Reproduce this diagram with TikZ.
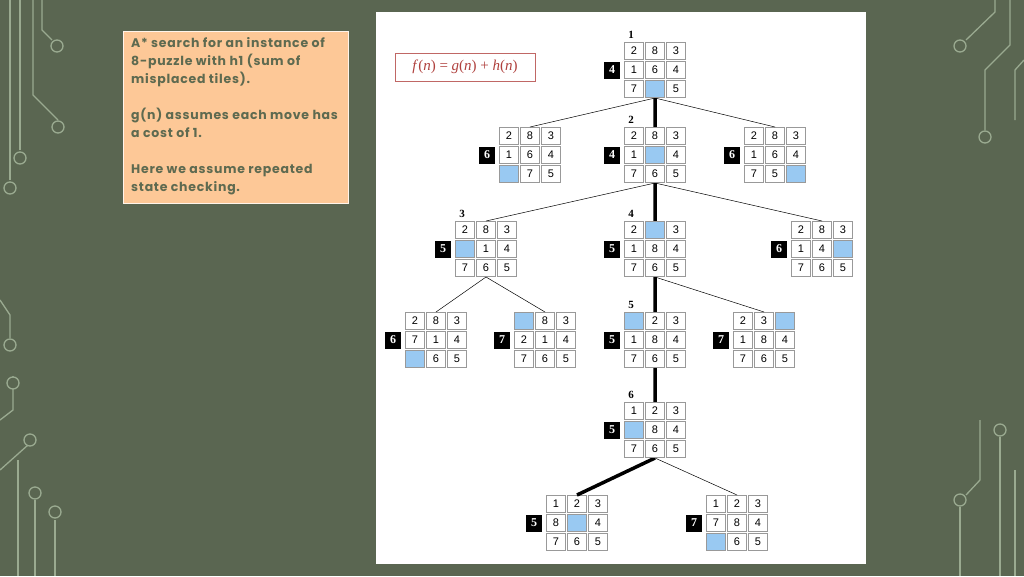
\documentclass[tikz,border=0pt]{standalone}
\usepackage{fontspec}
\setmainfont{Liberation Serif}
\newfontfamily\boxfont[LetterSpace=6]{Poppins}
\newfontfamily\cellfont{Liberation Sans}
\definecolor{bg}{HTML}{5A6651}
\definecolor{deco}{HTML}{9AAA90}
\definecolor{peach}{HTML}{FDC897}
\definecolor{olive}{HTML}{5E6A50}
\definecolor{blank}{HTML}{99C9F2}
\definecolor{formred}{HTML}{B0413E}
\newcommand{\pgrid}[4]{%
  \foreach \v [count=\i from 0] in {#4} {
    \pgfmathtruncatemacro{\cc}{mod(\i,3)-1}
    \pgfmathtruncatemacro{\rr}{int(\i/3)-1}
    \ifnum\v=0
      \node[cell,fill=blank] at ({#2+21*\cc},{#3+19*\rr}) {};
    \else
      \node[cell] at ({#2+21*\cc},{#3+19*\rr}) {\v};
    \fi
  }
  \coordinate (#1-t) at (#2,{#3-28});
  \coordinate (#1-b) at (#2,{#3+28});
}
\newcommand{\fval}[4]{\node[fbox] (#1-f) at ({#2-43},#3) {#4};}
\newcommand{\stepno}[4]{\node[stepn] (#1-s) at ({#2-24},{#3-35}) {#4};}
\begin{document}
\begin{tikzpicture}[x=1pt,y=-1pt,
  cell/.style={draw=gray!80,line width=1.2pt,minimum width=19pt,minimum height=17pt,inner sep=0pt,fill=white,font=\cellfont\fontsize{11}{11}\selectfont},
  fbox/.style={fill=black,text=white,minimum width=16pt,minimum height=17pt,inner sep=0pt,font=\bfseries\fontsize{12}{12}\selectfont},
  stepn/.style={font=\bfseries\fontsize{11}{11}\selectfont,inner sep=0pt},
  thin/.style={draw=black,line width=0.5pt},
  thick/.style={draw=black,line width=3.5pt},
  dl/.style={draw=deco,line width=1.3pt},
  dc/.style={draw=deco,line width=1.3pt,fill=bg}]
\fill[bg] (0,0) rectangle (1024,576);
\useasboundingbox (0,0) rectangle (1024,576);
% decorations left
\draw[dl] (10,0) -- (10,180);
\draw[dl] (20,0) -- (20,150);
\draw[dl] (33,0) -- (33,95) -- (58,120);
\draw[dl] (42,0) -- (42,30) -- (52,40);
\draw[dl] (0,300) -- (10,315) -- (10,338);
\draw[dl] (0,420) -- (13,410) -- (13,376);
\draw[dl] (0,470) -- (28,445);
\draw[dl] (35,500) -- (35,576);
\draw[dl] (18,460) -- (18,576);
\draw[dl] (55,520) -- (55,576);
\foreach \p in {(10,188),(20,158),(58,127),(57,46),(10,345),(13,383),(30,440),(35,493),(55,512)} \draw[dc] \p circle (6);
% decorations right
\draw[dl] (966,40) -- (995,12) -- (995,0);
\draw[dl] (985,130) -- (985,70) -- (1010,45) -- (1010,0);
\draw[dl] (1024,60) -- (1015,70) -- (1015,120);
\draw[dl] (1000,437) -- (1000,576);
\draw[dl] (966,495) -- (980,480) -- (980,420);
\draw[dl] (960,507) -- (960,576);
\draw[dl] (1015,470) -- (1015,576);
\foreach \p in {(960,46),(985,137),(1000,430),(960,500)} \draw[dc] \p circle (6);
% panels
\fill[white] (376,12) rectangle (866,564);
\node[draw=white!80!peach,line width=1pt,fill=peach,minimum width=225pt,minimum height=172pt,anchor=north west,inner sep=0pt] (tbox) at (123,31) {};
\node[anchor=north west,align=left,inner sep=0pt,text=olive,font=\boxfont\bfseries\fontsize{12.5}{18}\selectfont] (ttext) at (131,37)
{A* search for an instance of\\8-puzzle with h1 (sum of\\misplaced tiles).\\[18pt]g(n) assumes each move has\\a cost of 1.\\[18pt]Here we assume repeated\\state checking.};
\node[draw=formred!80,line width=0.8pt,text=formred,minimum width=140pt,minimum height=28pt,font=\fontsize{15}{15}\selectfont] (formula) at (465,67) {\textit{f}(\textit{n}) = \textit{g}(\textit{n}) + \textit{h}(\textit{n})};
\pgrid{r}{655}{70}{2,8,3,1,6,4,7,0,5}
\pgrid{a1}{530}{155}{2,8,3,1,6,4,0,7,5}
\pgrid{a2}{655}{155}{2,8,3,1,0,4,7,6,5}
\pgrid{a3}{775}{155}{2,8,3,1,6,4,7,5,0}
\pgrid{b1}{486}{249}{2,8,3,0,1,4,7,6,5}
\pgrid{b2}{655}{249}{2,0,3,1,8,4,7,6,5}
\pgrid{b3}{822}{249}{2,8,3,1,4,0,7,6,5}
\pgrid{c1}{436}{340}{2,8,3,7,1,4,0,6,5}
\pgrid{c2}{545}{340}{0,8,3,2,1,4,7,6,5}
\pgrid{c3}{655}{340}{0,2,3,1,8,4,7,6,5}
\pgrid{c4}{764}{340}{2,3,0,1,8,4,7,6,5}
\pgrid{d1}{655}{430}{1,2,3,0,8,4,7,6,5}
\pgrid{e1}{577}{523}{1,2,3,8,0,4,7,6,5}
\pgrid{e2}{737}{523}{1,2,3,7,8,4,0,6,5}
\path[thin] (r-b) -- (a1-t) (r-b) -- (a3-t)
  (a2-b) -- (b1-t) (a2-b) -- (b3-t)
  (b1-b) -- (c1-t) (b1-b) -- (c2-t)
  (b2-b) -- (c4-t) (d1-b) -- (e2-t);
\path[thick] (r-b) -- (a2-t) (a2-b) -- (b2-t) (b2-b) -- (c3-t) (c3-b) -- (d1-t) (d1-b) -- (e1-t);
\pgrid{r}{655}{70}{2,8,3,1,6,4,7,0,5}
\pgrid{a2}{655}{155}{2,8,3,1,0,4,7,6,5}
\pgrid{b2}{655}{249}{2,0,3,1,8,4,7,6,5}
\pgrid{c3}{655}{340}{0,2,3,1,8,4,7,6,5}
\pgrid{d1}{655}{430}{1,2,3,0,8,4,7,6,5}
\fval{r}{655}{70}{4}
\fval{a1}{530}{155}{6}\fval{a2}{655}{155}{4}\fval{a3}{775}{155}{6}
\fval{b1}{486}{249}{5}\fval{b2}{655}{249}{5}\fval{b3}{822}{249}{6}
\fval{c1}{436}{340}{6}\fval{c2}{545}{340}{7}\fval{c3}{655}{340}{5}\fval{c4}{764}{340}{7}
\fval{d1}{655}{430}{5}
\fval{e1}{577}{523}{5}\fval{e2}{737}{523}{7}
\stepno{r}{655}{70}{1}\stepno{a2}{655}{155}{2}\stepno{b1}{486}{249}{3}
\stepno{b2}{655}{249}{4}\stepno{c3}{655}{340}{5}\stepno{d1}{655}{430}{6}
\end{tikzpicture}
\end{document}
